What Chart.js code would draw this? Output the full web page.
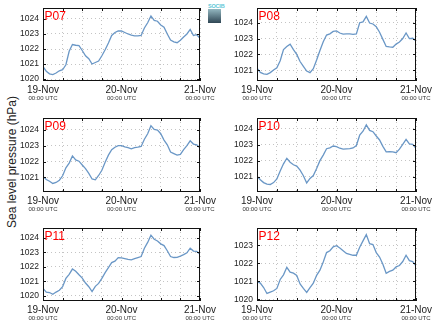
<!DOCTYPE html>
<html>
<head>
<meta charset="utf-8">
<script src="https://cdn.jsdelivr.net/npm/chart.js@4.4.1/dist/chart.umd.min.js"></script>
<style>
  body { margin: 0; background: #fff; font-family: "Liberation Sans", Arial, sans-serif; }
  #wrap { position: relative; width: 434px; height: 327px; overflow: hidden; }
  #wrap canvas { position: absolute; left: 0; top: 0; }
  #ytitle {
    position: absolute; left: -88px; top: 155px; width: 200px; height: 14px;
    line-height: 14px; font-size: 12px; color: #222; text-align: center;
    transform: rotate(-90deg);
  }
  #logo {
    position: absolute; left: 208px; top: 3px; width: 13px; height: 20px;
  }
  #logo span {
    display: block; height: 6px; font-size: 5.5px; line-height: 6px; color: #5ec6d6;
    letter-spacing: -0.2px; font-weight: bold; white-space: nowrap;
  }
  #logo div { height: 14px; background: linear-gradient(#93b7c0, #2f4654); }
</style>
</head>
<body>
<div id="wrap">
  <div id="ytitle">Sea level pressure (hPa)</div>
  <div id="logo"><span>SOCIB</span><div></div></div>
  <canvas id="c0" width="434" height="327"></canvas>
  <canvas id="c1" width="434" height="327"></canvas>
  <canvas id="c2" width="434" height="327"></canvas>
  <canvas id="c3" width="434" height="327"></canvas>
  <canvas id="c4" width="434" height="327"></canvas>
  <canvas id="c5" width="434" height="327"></canvas>
</div>
<script>
// hours since 19-Nov 00:00 UTC
const hours = [0, 1, 2, 3, 4, 5, 6, 7, 8, 9, 10, 11, 12, 13, 14, 15, 16, 17, 18, 19, 20, 21, 22, 23, 24,
  25, 26, 27, 28, 29, 30, 31, 32, 33, 34, 35, 36, 37, 38, 39, 40, 41, 42, 43, 44, 45, 46, 47, 48];
const gridHours = [0, 6, 12, 18, 24, 30, 36, 42, 48];
const dateHours = [0, 24, 48];
const dateLabels = ["19-Nov", "20-Nov", "21-Nov"];
const timeLabel = "00:00 UTC";

const panelNames = ["P07", "P08", "P09", "P10", "P11", "P12"];

const p07 = [1020.82, 1020.52, 1020.35, 1020.30, 1020.40, 1020.55, 1020.62, 1020.95, 1021.85, 1022.30,
  1022.25, 1022.22, 1021.90, 1021.55, 1021.35, 1021.00, 1021.10, 1021.20, 1021.55, 1021.95,
  1022.40, 1022.90, 1023.10, 1023.20, 1023.20, 1023.10, 1023.00, 1022.93, 1022.88, 1022.87,
  1022.90, 1023.40, 1023.75, 1024.20, 1023.90, 1023.85, 1023.60, 1023.45, 1023.00, 1022.60,
  1022.48, 1022.42, 1022.58, 1022.80, 1023.00, 1023.30, 1022.90, 1022.95, 1022.72];
const p08 = [1021.13, 1020.86, 1020.77, 1020.74, 1020.85, 1021.02, 1021.15, 1021.60, 1022.30, 1022.50,
  1022.65, 1022.30, 1022.00, 1021.55, 1021.25, 1020.95, 1020.85, 1021.10, 1021.65, 1022.25,
  1022.80, 1023.22, 1023.30, 1023.45, 1023.48, 1023.35, 1023.28, 1023.30, 1023.30, 1023.27,
  1023.30, 1024.00, 1024.05, 1024.40, 1023.98, 1023.92, 1023.75, 1023.40, 1022.95, 1022.50,
  1022.47, 1022.45, 1022.65, 1022.78, 1023.00, 1023.35, 1023.00, 1023.02, 1022.85];
const p09 = [1021.06, 1020.87, 1020.76, 1020.62, 1020.68, 1020.82, 1021.10, 1021.60, 1021.90, 1022.35,
  1022.10, 1022.02, 1021.78, 1021.55, 1021.25, 1020.90, 1020.85, 1021.12, 1021.45, 1021.95,
  1022.40, 1022.75, 1022.90, 1023.00, 1023.00, 1022.92, 1022.88, 1022.80, 1022.88, 1022.90,
  1022.95, 1023.40, 1023.75, 1024.25, 1024.02, 1023.98, 1023.75, 1023.35, 1023.05, 1022.60,
  1022.50, 1022.40, 1022.45, 1022.75, 1023.00, 1023.30, 1023.10, 1023.05, 1022.85];
const p10 = [1021.02, 1020.80, 1020.62, 1020.52, 1020.50, 1020.62, 1020.85, 1021.35, 1021.80, 1022.15,
  1021.90, 1021.74, 1021.66, 1021.40, 1021.05, 1020.60, 1020.88, 1021.06, 1021.50, 1022.00,
  1022.35, 1022.75, 1022.80, 1022.92, 1022.88, 1022.78, 1022.72, 1022.74, 1022.76, 1022.80,
  1022.95, 1023.60, 1023.85, 1024.25, 1023.90, 1023.82, 1023.55, 1023.30, 1022.90, 1022.55,
  1022.57, 1022.55, 1022.50, 1022.72, 1023.02, 1023.33, 1023.05, 1023.02, 1022.77];
const p11 = [1020.51, 1020.25, 1020.22, 1020.10, 1020.25, 1020.38, 1020.62, 1021.20, 1021.48, 1021.85,
  1021.70, 1021.45, 1021.22, 1020.88, 1020.62, 1020.28, 1020.65, 1020.85, 1021.20, 1021.60,
  1021.95, 1022.30, 1022.40, 1022.64, 1022.62, 1022.57, 1022.52, 1022.49, 1022.58, 1022.65,
  1022.72, 1023.30, 1023.70, 1024.20, 1023.92, 1023.80, 1023.60, 1023.48, 1023.12, 1022.72,
  1022.65, 1022.66, 1022.75, 1022.85, 1022.98, 1023.30, 1023.10, 1023.07, 1022.88];
const p12 = [1020.99, 1020.90, 1020.65, 1020.32, 1020.40, 1020.47, 1020.60, 1021.10, 1021.36, 1021.78,
  1021.51, 1021.45, 1021.32, 1020.85, 1020.60, 1020.38, 1020.65, 1020.89, 1021.33, 1021.62,
  1022.08, 1022.60, 1022.70, 1022.92, 1022.98, 1022.85, 1022.70, 1022.55, 1022.50, 1022.45,
  1022.45, 1022.90, 1023.25, 1023.60, 1023.10, 1023.05, 1022.60, 1022.35, 1021.95, 1021.45,
  1021.55, 1021.62, 1021.80, 1021.88, 1022.10, 1022.45, 1022.15, 1022.10, 1021.86];

const panelSeries = [p07, p08, p09, p10, p11, p12];
const panelYMin = [1019.87, 1020.32, 1020.08, 1020.03, 1019.63, 1019.9];
const panelYMax = [1024.73, 1024.93, 1024.74, 1024.68, 1024.70, 1023.97];

// plot boxes in the page: left, top, right, bottom
const boxes = [
  [43, 8, 200, 81], [257, 8, 416, 81],
  [43, 118, 200, 192], [257, 118, 416, 192],
  [43, 228, 200, 301], [257, 228, 416, 301]
];

const Y_AXIS_W = 40;
const X_AXIS_H = 30;
const FONT = '"Liberation Sans", Arial, sans-serif';

// frame, inward ticks, time sub-labels and panel name
const framePlugin = {
  id: "frame",
  afterDraw(chart, args, opts) {
    const ctx = chart.ctx;
    const a = chart.chartArea;
    const xs = chart.scales.x;
    const ys = chart.scales.y;
    ctx.save();
    ctx.strokeStyle = "#111";
    ctx.lineWidth = 1;
    ctx.beginPath();
    xs.ticks.forEach((t) => {
      const px = Math.round(xs.getPixelForValue(t.value)) + 0.5;
      ctx.moveTo(px, a.top);
      ctx.lineTo(px, a.top + 3);
      ctx.moveTo(px, a.bottom);
      ctx.lineTo(px, a.bottom - 3);
    });
    ys.ticks.forEach((t) => {
      const py = Math.round(ys.getPixelForValue(t.value)) + 0.5;
      ctx.moveTo(a.left, py);
      ctx.lineTo(a.left + 3, py);
      ctx.moveTo(a.right, py);
      ctx.lineTo(a.right - 3, py);
    });
    ctx.stroke();
    ctx.strokeRect(a.left + 0.5, a.top + 0.5, a.right - a.left - 1, a.bottom - a.top - 1);

    ctx.fillStyle = "#333";
    ctx.font = "6px " + FONT;
    ctx.textAlign = "center";
    ctx.textBaseline = "middle";
    dateHours.forEach((h) => {
      ctx.fillText(timeLabel, xs.getPixelForValue(h), a.bottom + 17.5);
    });

    ctx.fillStyle = "#ff0000";
    ctx.font = "12px " + FONT;
    ctx.textAlign = "left";
    ctx.textBaseline = "alphabetic";
    ctx.fillText(opts.name, a.left + 1.5, a.top + 12);
    ctx.restore();
  }
};

panelSeries.forEach((series, i) => {
  const [L, T, R, B] = boxes[i];
  const ctx = document.getElementById("c" + i).getContext("2d");
  new Chart(ctx, {
    type: "line",
    data: {
      datasets: [
        {
          data: series.map((v, k) => ({ x: hours[k], y: v })),
          borderColor: "#6a97c6",
          borderWidth: 1.3,
          pointRadius: 0,
          tension: 0,
          fill: false,
        },
      ],
    },
    options: {
      responsive: false,
      animation: false,
      events: [],
      layout: {
        padding: { left: L - Y_AXIS_W, top: T, right: 434 - R, bottom: 327 - X_AXIS_H - B },
      },
      plugins: {
        legend: { display: false },
        tooltip: { enabled: false },
        frame: { name: panelNames[i] },
      },
      scales: {
        x: {
          type: "linear",
          min: 0,
          max: 48,
          afterBuildTicks: (scale) => {
            scale.ticks = gridHours.map((h) => ({ value: h }));
          },
          afterFit: (scale) => {
            scale.height = X_AXIS_H;
            scale.paddingLeft = 0;
            scale.paddingRight = 0;
          },
          grid: { color: "#c4c4c4", lineWidth: 1, drawTicks: false },
          border: { display: false, dash: [1, 3] },
          ticks: {
            autoSkip: false,
            maxRotation: 0,
            padding: 3,
            color: "#222",
            font: { family: FONT, size: 10 },
            callback: (v) => {
              const k = dateHours.indexOf(v);
              return k >= 0 ? dateLabels[k] : "";
            },
          },
        },
        y: {
          min: panelYMin[i],
          max: panelYMax[i],
          afterBuildTicks: (scale) => {
            const ticks = [];
            for (let v = Math.ceil(scale.min); v <= Math.floor(scale.max); v++) {
              ticks.push({ value: v });
            }
            scale.ticks = ticks;
          },
          afterFit: (scale) => {
            scale.width = Y_AXIS_W;
            scale.paddingTop = 0;
            scale.paddingBottom = 0;
          },
          grid: { color: "#c4c4c4", lineWidth: 1, drawTicks: false },
          border: { display: false, dash: [1, 3] },
          ticks: {
            padding: 4,
            color: "#222",
            font: { family: FONT, size: 8.5 },
            callback: (v) => String(v),
          },
        },
      },
    },
    plugins: [framePlugin],
  });
});
</script>
</body>
</html>
